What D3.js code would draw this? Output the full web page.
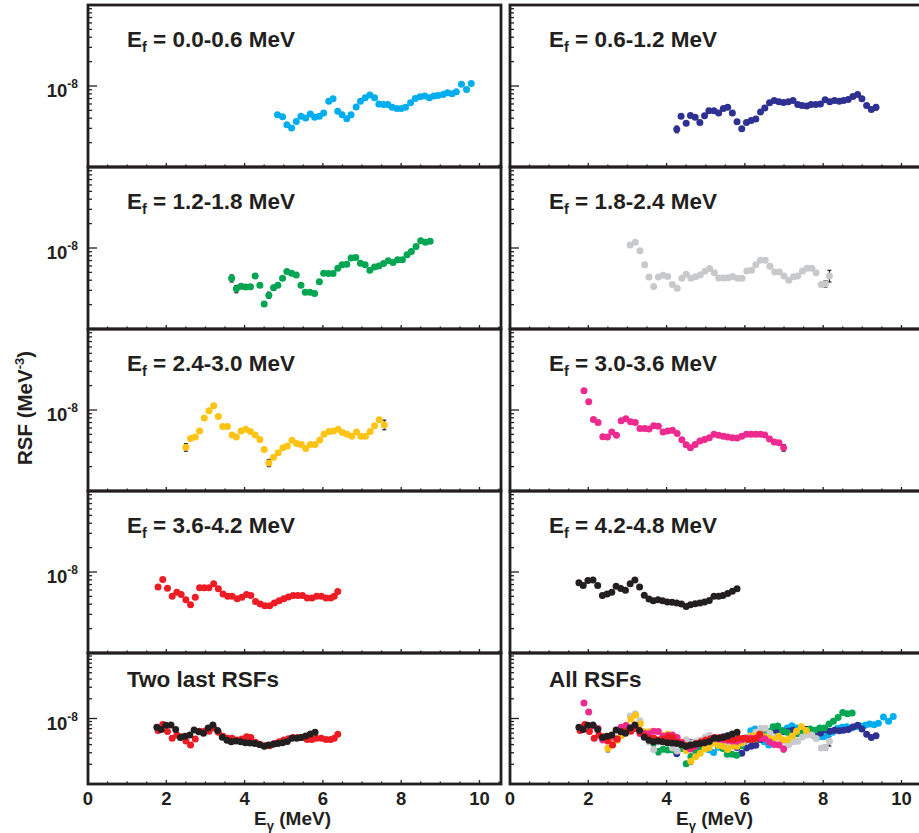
<!DOCTYPE html>
<html>
<head>
<meta charset="utf-8">
<script src="https://cdn.jsdelivr.net/npm/d3@7"></script>
<style>
  body { margin: 0; background: #fff; }
  text { font-family: "Liberation Sans", Arial, Helvetica, sans-serif; font-weight: bold; fill: #231f20; }
</style>
</head>
<body>
<svg id="chart" width="919" height="833"></svg>
<script>
// RSF values are in units of 1e-9 MeV^-3, E_gamma in MeV
var UNIT = 1e-9;

var rsf_00_06 = [[4.84,4.42],[4.97,4.18],[5.08,3.32],[5.20,3.02],[5.32,3.65],[5.44,4.22],[5.56,4.02],[5.68,4.51],[5.79,4.10],[5.91,4.22],[6.02,4.64],[6.15,6.49],[6.26,6.94],[6.38,4.87],[6.49,4.42],[6.61,3.95],[6.72,4.42],[6.85,5.52],[6.96,6.49],[7.08,7.15],[7.20,7.72],[7.32,7.15],[7.43,6.01],[7.55,5.90],[7.66,5.90],[7.77,5.46],[7.89,5.26],[8.00,5.26],[8.11,5.46],[8.24,6.19],[8.36,7.01],[8.48,7.36],[8.60,7.50],[8.72,7.15],[8.83,7.50],[8.94,7.65],[9.07,7.87],[9.18,8.25],[9.30,8.02],[9.41,8.49],[9.54,10.5],[9.67,9.08],[9.79,10.7]];

var rsf_06_12 = [[4.26,2.93],[4.37,4.22],[4.50,3.48],[4.61,4.33],[4.73,4.10],[4.85,3.55],[4.97,4.30],[5.08,4.96],[5.21,4.96],[5.33,4.64],[5.45,5.26],[5.56,5.46],[5.68,4.64],[5.80,3.62],[5.92,2.96],[6.04,3.55],[6.16,3.76],[6.28,3.91],[6.40,4.78],[6.51,5.36],[6.63,6.19],[6.75,6.62],[6.87,6.37],[6.99,6.25],[7.11,6.37],[7.23,6.62],[7.35,5.90],[7.46,5.73],[7.58,5.68],[7.69,5.90],[7.81,5.90],[7.93,6.01],[8.05,6.75],[8.17,6.37],[8.29,6.62],[8.41,6.49],[8.52,6.62],[8.64,6.81],[8.76,7.43],[8.88,7.87],[8.99,6.94],[9.11,5.73],[9.23,5.11],[9.35,5.46]];

var rsf_12_18 = [[3.67,4.22],[3.79,3.13],[3.91,3.38],[4.03,3.29],[4.15,3.32],[4.27,4.51],[4.39,3.48],[4.50,2.04],[4.62,2.61],[4.74,3.22],[4.85,3.48],[4.97,4.22],[5.08,5.11],[5.20,4.87],[5.32,4.64],[5.44,3.48],[5.55,2.85],[5.67,2.85],[5.79,2.74],[5.91,3.83],[6.02,4.87],[6.14,4.83],[6.26,4.83],[6.38,5.62],[6.49,6.19],[6.61,6.31],[6.72,7.50],[6.84,7.65],[6.96,6.49],[7.08,6.19],[7.20,5.31],[7.32,5.84],[7.43,6.01],[7.55,6.43],[7.67,6.94],[7.79,6.62],[7.91,7.15],[8.03,7.15],[8.15,8.25],[8.26,9.08],[8.38,10.4],[8.50,12.3],[8.62,11.8],[8.74,12.1]];

var rsf_18_24 = [[3.07,10.9],[3.20,11.8],[3.32,9.26],[3.44,6.19],[3.55,4.38],[3.67,3.35],[3.79,4.38],[3.91,4.60],[4.03,4.46],[4.15,3.55],[4.27,3.19],[4.39,4.22],[4.50,4.73],[4.62,4.22],[4.74,4.42],[4.86,4.64],[4.98,5.16],[5.10,5.57],[5.22,4.96],[5.33,4.26],[5.45,4.26],[5.57,4.30],[5.69,4.46],[5.81,4.22],[5.93,4.22],[6.05,5.21],[6.17,5.31],[6.28,6.19],[6.40,7.08],[6.52,7.08],[6.64,5.96],[6.76,5.06],[6.88,5.06],[7.00,4.51],[7.12,3.99],[7.24,4.42],[7.35,4.51],[7.47,5.21],[7.59,5.62],[7.71,5.62],[7.82,4.96],[7.95,3.55],[8.06,3.62],[8.16,4.51]];

var rsf_24_30 = [[2.50,3.48],[2.62,4.46],[2.74,4.64],[2.85,5.52],[2.97,7.94],[3.09,9.81],[3.21,11.3],[3.33,8.34],[3.44,6.25],[3.56,6.25],[3.68,4.92],[3.79,4.64],[3.91,5.52],[4.03,5.79],[4.15,5.41],[4.27,4.92],[4.39,4.33],[4.50,3.25],[4.62,2.22],[4.74,2.61],[4.86,2.96],[4.98,3.42],[5.09,3.59],[5.21,4.22],[5.33,3.87],[5.45,3.76],[5.56,3.35],[5.68,3.76],[5.80,3.76],[5.92,4.26],[6.03,5.01],[6.15,5.41],[6.27,5.52],[6.39,5.79],[6.50,5.26],[6.62,5.01],[6.74,4.73],[6.86,5.36],[6.97,4.73],[7.09,4.73],[7.21,5.41],[7.32,6.37],[7.44,7.57],[7.57,6.55]];

var rsf_30_36 = [[1.89,17.3],[2.01,12.6],[2.13,7.65],[2.25,7.01],[2.37,4.69],[2.49,4.64],[2.60,5.36],[2.72,4.87],[2.84,7.36],[2.96,7.79],[3.08,7.15],[3.20,7.01],[3.32,5.90],[3.44,5.90],[3.55,5.84],[3.67,6.37],[3.79,6.31],[3.91,5.36],[4.03,5.52],[4.15,5.62],[4.27,5.11],[4.39,4.30],[4.50,3.72],[4.61,3.42],[4.73,3.76],[4.85,4.14],[4.97,4.33],[5.09,4.55],[5.21,5.01],[5.33,4.87],[5.45,4.73],[5.56,4.64],[5.68,4.55],[5.80,4.51],[5.92,4.73],[6.04,5.01],[6.16,5.01],[6.28,5.01],[6.40,5.01],[6.51,4.92],[6.63,4.38],[6.75,4.02],[6.87,3.95],[6.99,3.42]];

var rsf_36_42 = [[1.79,6.55],[1.91,8.10],[2.03,6.31],[2.15,5.01],[2.27,5.62],[2.38,5.26],[2.50,4.55],[2.62,3.95],[2.74,4.87],[2.85,6.37],[2.97,6.37],[3.09,6.37],[3.21,7.15],[3.33,6.19],[3.45,5.36],[3.57,5.01],[3.68,5.01],[3.81,4.69],[3.93,4.87],[4.05,5.26],[4.16,5.11],[4.28,4.33],[4.40,4.02],[4.52,3.83],[4.64,3.83],[4.76,4.14],[4.88,4.42],[5.00,4.69],[5.12,4.92],[5.24,5.11],[5.36,5.11],[5.48,5.11],[5.60,4.78],[5.72,4.78],[5.84,5.01],[5.96,5.01],[6.08,4.78],[6.20,4.78],[6.29,5.01],[6.38,5.73]];

var rsf_42_48 = [[1.76,7.36],[1.87,6.81],[1.99,7.87],[2.12,7.94],[2.24,6.81],[2.36,5.11],[2.48,5.36],[2.60,5.62],[2.71,6.68],[2.83,6.25],[2.95,5.96],[3.07,7.15],[3.19,7.94],[3.31,6.55],[3.43,5.16],[3.55,4.64],[3.66,4.42],[3.78,4.55],[3.90,4.42],[4.02,4.26],[4.14,4.22],[4.26,4.14],[4.38,4.02],[4.50,3.76],[4.61,3.95],[4.73,4.06],[4.85,4.14],[4.97,4.26],[5.09,4.46],[5.21,5.01],[5.33,5.01],[5.44,5.11],[5.56,5.41],[5.68,5.79],[5.80,6.19]];

// visible error bars: [E, low, high] in 1e-9 MeV^-3
var err_06_12 = [[4.26,2.65,3.2],[9.35,5.05,5.9]];
var err_12_18 = [[3.67,3.8,4.65],[3.79,2.8,3.45],[3.91,3.15,3.6],[4.62,2.4,2.85],[4.74,3.0,3.45],[8.74,11.4,12.8]];
var err_18_24 = [[8.06,3.3,3.95],[8.16,3.8,5.3]];
var err_24_30 = [[2.50,3.1,3.85],[4.62,2.0,2.45],[7.57,5.7,7.5]];
var err_30_36 = [[6.99,3.1,3.75]];

var titles = ["0.0-0.6", "0.6-1.2", "1.2-1.8", "1.8-2.4", "2.4-3.0", "3.0-3.6", "3.6-4.2", "4.2-4.8"];
var colors = ["#00aeef", "#2e3192", "#00a651", "#c8c9cb", "#fdc416", "#ec2a8f", "#ed1c24", "#231f20"];
var xTickLabels = [0, 2, 4, 6, 8, 10];

var seriesList = [
  {data: rsf_00_06, err: []},
  {data: rsf_06_12, err: err_06_12},
  {data: rsf_12_18, err: err_12_18},
  {data: rsf_18_24, err: err_18_24},
  {data: rsf_24_30, err: err_24_30},
  {data: rsf_30_36, err: err_30_36},
  {data: rsf_36_42, err: []},
  {data: rsf_42_48, err: []}
];
seriesList.forEach((s, i) => { s.color = colors[i]; });

var ink = "#231f20";
var colLeft = [88, 510];
var panelW = 413;
var rowTop = [5, 167, 329, 491, 653];
var rowH = [162, 162, 162, 162, 131];

var svg = d3.select("#chart");
svg.append("rect").attr("width", 919).attr("height", 833).attr("fill", "#fff");

var x = d3.scaleLinear().domain([0, 10.55]).range([0, panelW]);

function drawPanel(col, row, series, label, isSub) {
  var h = rowH[row];
  var y = d3.scaleLog().domain([1e-9, 1e-7]).range([h, 0]);
  var g = svg.append("g").attr("transform", "translate(" + colLeft[col] + "," + rowTop[row] + ")");

  // y ticks (left, inward)
  var yt = y.ticks();
  g.selectAll("line.ytick")
    .data(yt)
    .join("line")
    .classed("ytick", true)
    .attr("x1", 0)
    .attr("x2", d => Math.abs(Math.log10(d) + 8) < 1e-6 ? 9 : 4)
    .attr("y1", d => y(d)).attr("y2", d => y(d))
    .attr("stroke", ink).attr("stroke-width", 1.3);

  // x ticks (bottom, inward)
  var xt = d3.range(0, 10.51, 0.5);
  g.selectAll("line.xtick")
    .data(xt)
    .join("line")
    .classed("xtick", true)
    .attr("x1", d => x(d)).attr("x2", d => x(d))
    .attr("y1", h)
    .attr("y2", d => d % 2 === 0 ? h - 4 : h - 2.5)
    .attr("stroke", ink).attr("stroke-width", 1.3);

  if (col === 0) {
    var lab = g.append("text")
      .attr("x", -10).attr("y", y(1e-8) + 11)
      .attr("text-anchor", "end")
      .style("font-size", "18.5px");
    lab.append("tspan").text("10");
    lab.append("tspan").attr("dy", -9).style("font-size", "12px").text("-8");
  }

  // error bars
  series.forEach(s => {
    s.err.forEach(e => {
      var ex = x(e[0]);
      g.append("line").attr("x1", ex).attr("x2", ex)
        .attr("y1", y(e[1] * UNIT)).attr("y2", y(e[2] * UNIT))
        .attr("stroke", ink).attr("stroke-width", 1.2);
      [e[1], e[2]].forEach(v => {
        g.append("line").attr("x1", ex - 2).attr("x2", ex + 2)
          .attr("y1", y(v * UNIT)).attr("y2", y(v * UNIT))
          .attr("stroke", ink).attr("stroke-width", 1.2);
      });
    });
  });

  // points
  series.forEach(s => {
    g.append("g").selectAll("circle")
      .data(s.data)
      .join("circle")
      .attr("cx", d => x(d[0]))
      .attr("cy", d => y(d[1] * UNIT))
      .attr("r", 3.5)
      .attr("fill", s.color);
  });

  // frame
  g.append("rect").attr("x", 0).attr("y", 0).attr("width", panelW).attr("height", h)
    .attr("fill", "none").attr("stroke", ink).attr("stroke-width", 2.8);

  // panel title
  var t = g.append("text").attr("x", 39).attr("y", row === 4 ? 34 : 42).style("font-size", "22.5px");
  if (isSub) {
    t.append("tspan").text("E");
    t.append("tspan").attr("dy", 5).style("font-size", "14.5px").text("f");
    t.append("tspan").attr("dy", -5).text(" = " + label + " MeV");
  } else {
    t.text(label);
  }

  if (row === 4) {
    g.selectAll("text.xlab")
      .data(xTickLabels)
      .join("text")
      .classed("xlab", true)
      .attr("x", d => x(d)).attr("y", h + 21)
      .attr("text-anchor", "middle")
      .style("font-size", "18.5px")
      .text(d => d);
    var xl = g.append("text").attr("x", panelW / 2 - 2).attr("y", h + 41)
      .attr("text-anchor", "middle").style("font-size", "19px");
    xl.append("tspan").text("E");
    xl.append("tspan").attr("dy", 5).style("font-size", "13px").text("γ");
    xl.append("tspan").attr("dy", -5).text(" (MeV)");
  }
}

for (var i = 0; i < 8; i++) {
  drawPanel(i % 2, Math.floor(i / 2), [seriesList[i]], titles[i], true);
}
drawPanel(0, 4, [seriesList[6], seriesList[7]], "Two last RSFs", false);
drawPanel(1, 4, seriesList, "All RSFs", false);

// y axis title
var yl = svg.append("text")
  .attr("transform", "translate(32,408) rotate(-90)")
  .attr("text-anchor", "middle")
  .style("font-size", "20.5px");
yl.append("tspan").text("RSF (MeV");
yl.append("tspan").attr("dy", -8).style("font-size", "13px").text("-3");
yl.append("tspan").attr("dy", 8).text(")");
</script>
</body>
</html>
